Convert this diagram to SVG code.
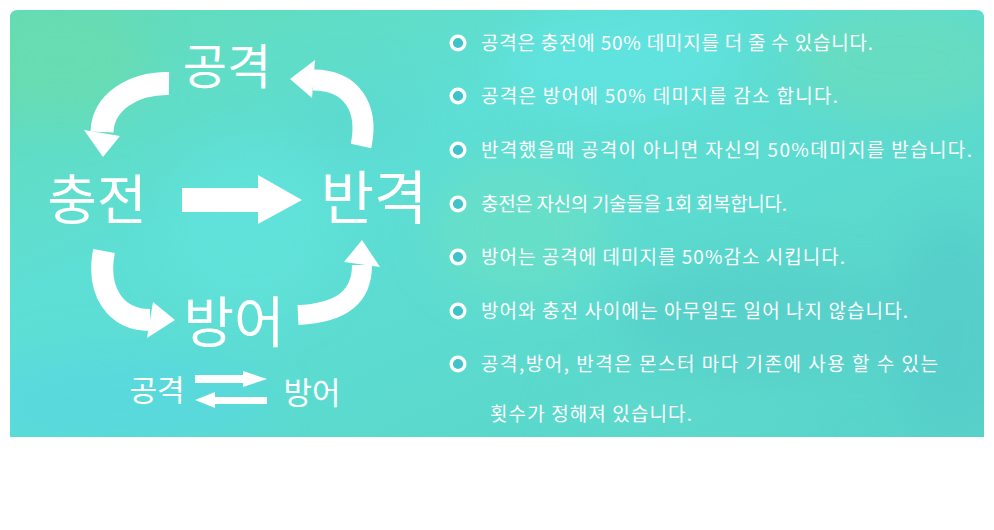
<svg xmlns="http://www.w3.org/2000/svg" width="994" height="530" viewBox="0 0 994 530">
<defs>
<style>
.lbl{font-family:"Noto Sans CJK KR","Noto Sans",sans-serif;fill:#fff;text-anchor:middle;font-weight:400}
.rule{font-family:"Noto Sans CJK KR","Noto Sans",sans-serif;font-size:19px;fill:#fff}
.bul{fill:#3ec3cb;stroke:#fff;stroke-width:3.4}
.band{fill:none;stroke:#fff;stroke-linecap:butt}
.head{fill:#fff}
</style>
<linearGradient id="bg" x1="0" y1="0" x2="1" y2="1">
<stop offset="0" stop-color="#63dbb6"/>
<stop offset="0.35" stop-color="#5edfd6"/>
<stop offset="0.7" stop-color="#5bd9cd"/>
<stop offset="1" stop-color="#58d4ca"/>
</linearGradient>
<filter id="blur" x="-50%" y="-50%" width="200%" height="200%"><feGaussianBlur stdDeviation="22"/></filter>
<clipPath id="panel"><path d="M18,10 H976 Q984,10 984,18 V437 H10 V18 Q10,10 18,10 Z"/></clipPath>
</defs>
<rect width="994" height="530" fill="#fff"/>
<g id="background" clip-path="url(#panel)">
<rect x="10" y="10" width="974" height="427" fill="url(#bg)"/>
<g filter="url(#blur)" opacity="0.75">
<ellipse cx="60" cy="60" rx="90" ry="60" fill="#6adcae"/>
<ellipse cx="620" cy="60" rx="120" ry="50" fill="#62e4e2"/>
<ellipse cx="900" cy="60" rx="110" ry="60" fill="#6adcbc"/>
<ellipse cx="520" cy="230" rx="90" ry="70" fill="#6ae0c6"/>
<ellipse cx="120" cy="400" rx="150" ry="50" fill="#58d8e0"/>
<ellipse cx="250" cy="230" rx="90" ry="90" fill="#62e2da"/>
<ellipse cx="760" cy="320" rx="140" ry="60" fill="#56cfc9"/>
<ellipse cx="950" cy="330" rx="60" ry="110" fill="#54cbc9"/>
<ellipse cx="360" cy="120" rx="70" ry="40" fill="#5ad5cc" opacity="0.6"/>
<ellipse cx="680" cy="410" rx="120" ry="30" fill="#5ed9cc"/>
</g>
</g>
<g id="connectors">
<path class="band" stroke-width="23" d="M169,83.5 C133,83 103,102 102,132"/>
<polygon class="head" points="84,130 120,136 103,157"/>
<path class="band" stroke-width="21" d="M361,146 C369,108 352,80 313,80"/>
<polygon class="head" points="315,60 312,98 290,79"/>
<path class="band" stroke-width="22" d="M104,251 C96,292 116,320 150,320"/>
<polygon class="head" points="153,302 147,338 175,320"/>
<path class="band" stroke-width="20" d="M298,315 C340,313 362,298 362,265"/>
<polygon class="head" points="344,262 380,267 362,240"/>
<polygon class="head" points="182,188 258,188 258,175 302,200 258,224 258,212 182,212"/>
</g>
<g id="node-gongyeok"><text class="lbl" x="227" y="84" font-size="48">공격</text></g>
<g id="node-chungjeon"><text class="lbl" x="97" y="220" font-size="54">충전</text></g>
<g id="node-bangyeok"><text class="lbl" x="374" y="219" font-size="58">반격</text></g>
<g id="node-bangeo"><text class="lbl" x="234" y="342" font-size="55">방어</text></g>
<g id="legend">
<text class="lbl" x="157" y="401" font-size="30">공격</text>
<text class="lbl" x="312" y="404" font-size="31">방어</text>
<polygon class="head" points="195,375 243,375 243,371 267,379 243,387 243,383 195,383"/>
<polygon class="head" points="267,397 215,397 215,392 195,400 215,408 215,404 267,404"/>
</g>
<g id="rules">
<circle class="bul" cx="458" cy="43" r="6.8"/>
<text class="rule" x="481" y="50" textLength="392" lengthAdjust="spacing">공격은 충전에 50% 데미지를 더 줄 수 있습니다.</text>
<circle class="bul" cx="458" cy="96" r="6.8"/>
<text class="rule" x="481" y="103" textLength="357" lengthAdjust="spacing">공격은 방어에 50% 데미지를 감소 합니다.</text>
<circle class="bul" cx="458" cy="150" r="6.8"/>
<text class="rule" x="481" y="157" textLength="491" lengthAdjust="spacing">반격했을때 공격이 아니면 자신의 50%데미지를 받습니다.</text>
<circle class="bul" cx="458" cy="204" r="6.8"/>
<text class="rule" x="481" y="211" textLength="306" lengthAdjust="spacing">충전은 자신의 기술들을 1회 회복합니다.</text>
<circle class="bul" cx="458" cy="257" r="6.8"/>
<text class="rule" x="481" y="264" textLength="364" lengthAdjust="spacing">방어는 공격에 데미지를 50%감소 시킵니다.</text>
<circle class="bul" cx="458" cy="311" r="6.8"/>
<text class="rule" x="481" y="318" textLength="427" lengthAdjust="spacing">방어와 충전 사이에는 아무일도 일어 나지 않습니다.</text>
<circle class="bul" cx="458" cy="364" r="6.8"/>
<text class="rule" x="481" y="371" textLength="457" lengthAdjust="spacing">공격,방어, 반격은 몬스터 마다 기존에 사용 할 수 있는</text>
<text class="rule" x="490" y="421" textLength="202" lengthAdjust="spacing">횟수가 정해져 있습니다.</text>
</g>
</svg>
